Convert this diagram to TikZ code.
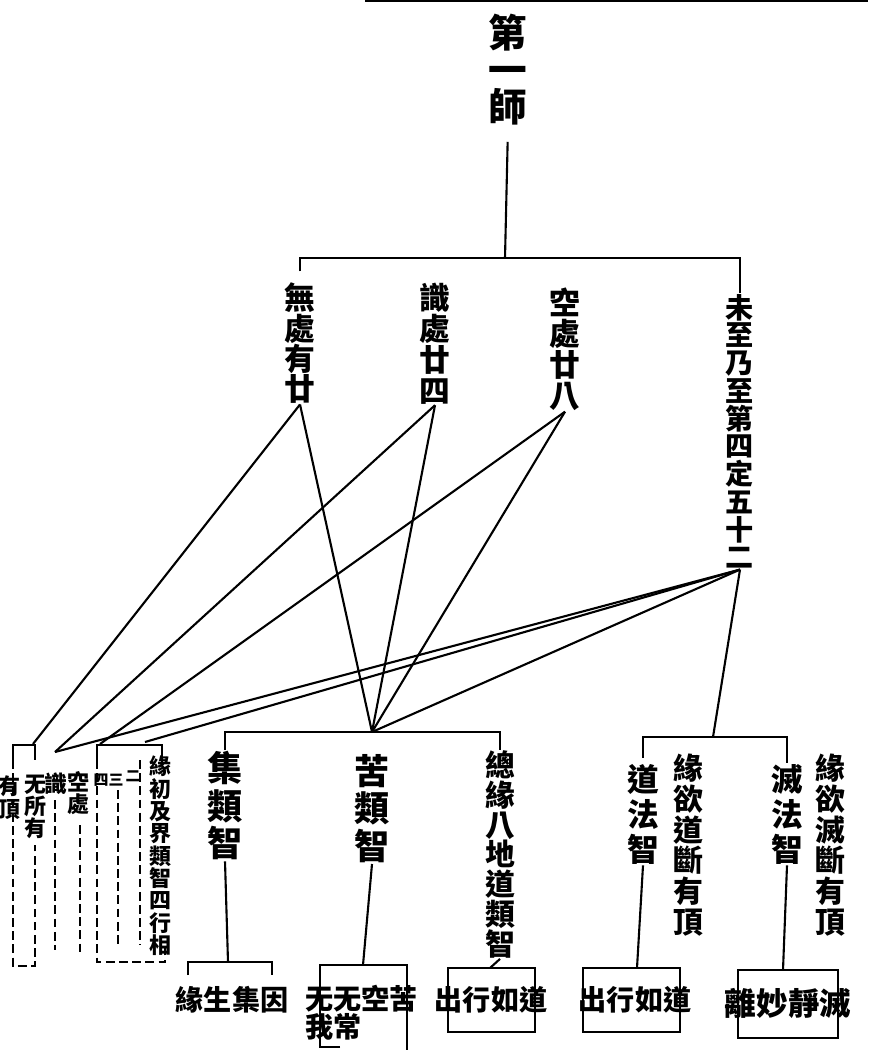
\documentclass[tikz,border=0pt]{standalone}
\usepackage{fontspec}
\newfontfamily\cjk{Noto Sans CJK TC}
\newcommand{\cjksz}[2]{\cjk\bfseries\fontsize{#1}{#2}\selectfont\lineskiplimit=-30pt\relax}

\begin{document}
\begin{tikzpicture}[x=0.02cm, y=-0.02cm, line width=1.2pt,
    vlabel/.style={align=center, inner sep=0pt, anchor=north},
    boxtext/.style={inner sep=0pt, font=\cjksz{16}{16}},
    dashline/.style={dash pattern=on 5pt off 2.5pt, line width=1.1pt}]
    \useasboundingbox (0,0) rectangle (868,1050);
    \draw (365,1) -- (868,1);

    % title and first fork
    \node[vlabel, font=\cjksz{22}{21}] (shi) at (508,13) {第\\一\\師};
    \coordinate (fork) at (505,258);
    \node[vlabel, font=\cjksz{17.5}{17.2}] (wusuo) at (300,282) {無\\處\\有\\廿};
    \node[vlabel, font=\cjksz{17.5}{17.6}] (shichu) at (435,282) {識\\處\\廿\\四};
    \node[vlabel, font=\cjksz{17.5}{17.6}] (kongchu) at (565,287) {空\\處\\廿\\八};
    \node[vlabel, font=\cjksz{16}{15.8}] (weizhi) at (740,293) {未\\至\\乃\\至\\第\\四\\定\\五\\十\\二};
    \draw[shorten <=9pt] (shi.south) -- (fork);
    \draw[shorten <=6pt] (wusuo.north) |- (fork) -| (weizhi.north);

    % left group of levels
    \coordinate (la) at (33,744);
    \coordinate (lb) at (55,752);
    \coordinate (lc) at (100,744);
    \coordinate (ld) at (145,742);
    \node[vlabel, font=\cjksz{12.5}{13}] (youding) at (9,775) {有\\頂};
    \node[vlabel, font=\cjksz{12.5}{12.5}] (wusuoyou) at (35,774) {无\\所\\有};
    \node[vlabel, font=\cjksz{13}{12}] (shi2) at (56,772) {識};
    \node[vlabel, font=\cjksz{12.5}{12.5}] (kong2) at (78,770) {空\\處};
    \node[vlabel, font=\cjksz{8.5}{8}] (si) at (101,773) {四};
    \node[vlabel, font=\cjksz{8.5}{8}] (san) at (116,773) {三};
    \node[vlabel, font=\cjksz{8.5}{8}] (er) at (133,770) {二};
    \node[vlabel, font=\cjksz{12.5}{12.7}] (yuanmie) at (160,755) {緣\\初\\及\\界\\類\\智\\四\\行\\相};
    \draw (13,760) -- (13,745) -- (35,745) -- (35,760);
    \draw[dashline] (13,760) -- (13,966) -- (35,966) -- (35,845);
    \draw[dashline] (55,800) -- (55,950);
    \draw[dashline] (80,825) -- (80,955);
    \draw (97,760) -- (97,745) -- (162,745) -- (162,765);
    \draw[dashline] (97,760) -- (97,962) -- (165,962) -- (165,942);
    \draw[dashline] (118,790) -- (118,945);
    \draw[dashline] (140,760) -- (140,945);

    % lines from the four levels
    \coordinate (kutop) at (372,732);
    \coordinate (rfork) at (713,737);
    \foreach \n in {wusuo,shichu,kongchu,weizhi}
        \draw (\n.south) -- (kutop);
    \draw (wusuo.south) -- (la);
    \draw (shichu.south) -- (lb);
    \draw (kongchu.south) -- (lc);
    \draw (weizhi.south) -- (ld);
    \draw (weizhi.south) -- (lb);
    \draw (weizhi.south) -- (rfork);

    % class knowledges
    \node[vlabel, font=\cjksz{20}{21.5}] (jilei) at (225,750) {集\\類\\智};
    \node[vlabel, font=\cjksz{20}{21.5}] (kulei) at (372,753) {苦\\類\\智};
    \node[vlabel, font=\cjksz{17}{16.9}] (zonglei) at (500,750) {總\\緣\\八\\地\\道\\類\\智};
    \draw (jilei.north) |- (kutop) -| (zonglei.north);

    % dharma knowledges
    \node[vlabel, font=\cjksz{18}{20}] (daofa) at (643,763) {道\\法\\智};
    \node[vlabel, font=\cjksz{17}{17.5}] (daoyuan) at (688,753) {緣\\欲\\道\\斷\\有\\頂};
    \node[vlabel, font=\cjksz{18}{20}] (miefa) at (787,763) {滅\\法\\智};
    \node[vlabel, font=\cjksz{17}{17.5}] (mieyuan) at (830,753) {緣\\欲\\滅\\斷\\有\\頂};
    \draw[shorten <=3pt] (daofa.north) |- (rfork) -| (miefa.north);

    % the four aspects
    \coordinate (b1) at (228,962);
    \coordinate (b2) at (363,965);
    \coordinate (b3) at (490,968);
    \coordinate (b4) at (637,968);
    \coordinate (b5) at (783,970);
    \draw (188,975) -- (188,962) -- (272,962) -- (272,975);
    \draw (340,1047) -- (320,1047) -- (320,965) -- (407,965) -- (407,1050);
    \draw (448,968) rectangle (535,1032);
    \draw (583,968) rectangle (680,1032);
    \draw (738,970) rectangle (838,1038);
    \node[boxtext] (ji4) at (232,1000) {緣生集因};
    \node[boxtext, align=left, anchor=north west, font=\cjksz{16}{16}] (ku4) at (304,984) {无无空苦\\我常};
    \node[boxtext] (dao4a) at (491,1000) {出行如道};
    \node[boxtext] (dao4b) at (635,1000) {出行如道};
    \node[boxtext, font=\cjksz{18}{18}] (mie4) at (788,1003) {離妙靜滅};
    \draw (jilei.south) -- (b1);
    \draw (kulei.south) -- (b2);
    \draw (zonglei.south) -- (b3);
    \draw (daofa.south) -- (b4);
    \draw (miefa.south) -- (b5);
\end{tikzpicture}
\end{document}
